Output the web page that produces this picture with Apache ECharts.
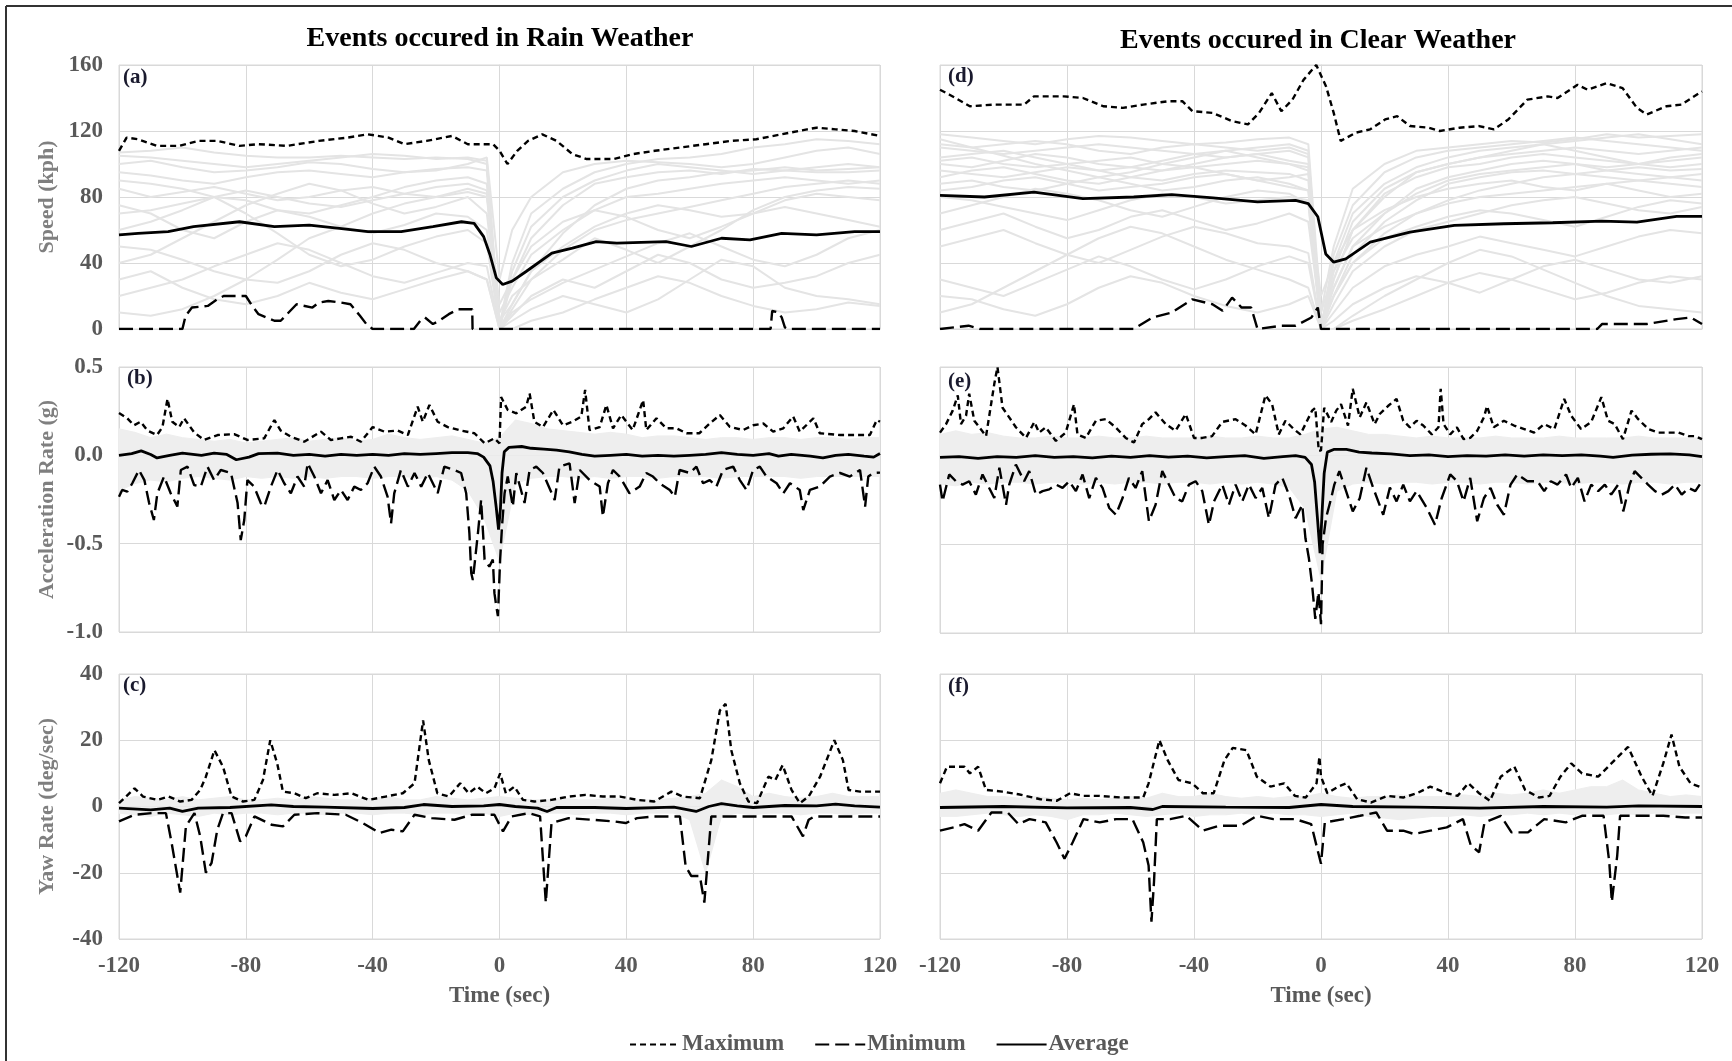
<!DOCTYPE html>
<html><head><meta charset="utf-8">
<script src="https://cdn.jsdelivr.net/npm/echarts@6/dist/echarts.min.js"></script>
<style>html,body{margin:0;padding:0;background:#fff}#c{width:1732px;height:1061px}</style>
</head><body><div id="c"></div>
<script>
// ---------- DATA ----------
const timeTicks = [-120, -80, -40, 0, 40, 80, 120];
const seriesNames = ['Maximum', 'Minimum', 'Average'];
const panelTitles = ['Events occured in Rain Weather', 'Events occured in Clear Weather'];
const yNames = ['Speed (kph)', 'Acceleration Rate (g)', 'Yaw Rate (deg/sec)'];

// (a) Speed, rain
const rainSpeedMax = [[-120,108],[-117.6,116],[-114,115],[-108,111],[-101,111],[-95,114],[-89,114],[-82,111],[-76,112],[-67,111],[-57,114],[-48,116],[-41.5,118],[-35,116],[-30,112],[-23,114],[-15,117],[-10,112],[-2,112],[0,108],[2.5,100],[5.6,108],[9,114],[13.5,118],[18,114],[23,106],[27.5,103],[36,103],[42,106],[49,108],[57,110],[65,112],[73,114],[81,115],[89,118],[97,121],[100,122],[106,121],[112,120],[120,117]];
const rainSpeedMin = [[-120,0],[-100,0],[-99,8],[-97,13],[-92,14],[-89,18],[-87,20],[-80,20],[-78,14],[-76,9],[-71,5],[-69,5],[-67,9],[-64,15],[-59,13],[-57,16],[-54,17],[-50,16],[-47,15],[-44,8],[-42,3],[-40,0],[-27,0],[-25,5],[-23.5,7],[-21,3],[-19,5],[-16,9],[-13,12],[-8.6,12],[-8.5,0],[85.5,0],[86,11],[88,10],[89,7],[90,1],[91,0],[120,0]];
const rainSpeedAvg = [[-120,57],[-114,58],[-104.5,59],[-96.5,62],[-82,65],[-71,62],[-60,63],[-50.5,61],[-41.5,59],[-31,59],[-21,62],[-12,65],[-8,64],[-5,56],[-3,45],[-1,31],[1,27],[4,29],[8.5,35],[16.5,46],[23,49],[30.5,53],[37,52],[52.5,53],[60.5,50],[70,55],[79,54],[89,58],[100,57],[112,59],[120,59]];

// (d) Speed, clear
const clearSpeedMax = [[-120,145],[-117,142],[-110.6,135],[-103,136],[-93.5,136],[-90.4,141],[-81,141],[-75,140],[-68.6,135],[-62.4,134],[-56,136],[-48.3,138],[-43.6,138],[-40.5,132],[-34.2,131],[-28,126],[-23,124],[-19.5,131],[-15.5,143],[-12.5,132],[-9,139],[-5.5,151],[-1.5,160],[1.6,147],[4,131],[6.2,114],[11,119],[15.5,121],[20.2,127],[24,129],[28,123],[34,122],[37.4,120],[43.6,122],[49.8,123],[54.5,121],[59,127],[65,139],[71.4,141],[74.5,140],[80.8,148],[84,145],[90,149],[95,146],[99.5,134],[102.6,130],[108.8,135],[113.5,136],[120,144]];
const clearSpeedMin = [[-120,0],[-111,2],[-107.5,0],[-59,0],[-53,7],[-47,10],[-40.5,18],[-34.2,15],[-31,11],[-28,19],[-25,13],[-22,13],[-20,0],[-12.5,2],[-8,2],[-3,7],[-1,13],[0,0],[87,0],[88.5,3],[102.6,3],[112,6],[116.5,7],[120,3]];
const clearSpeedAvg = [[-120,81],[-106,80],[-90.4,83],[-75,79],[-59,80],[-47,81.5],[-34,79.5],[-20,77],[-8,78],[-4,76],[-1,68],[1.5,45.5],[4,40.5],[7.8,42.5],[15.5,52.6],[28,58.7],[42,62.8],[57.6,63.8],[73,64.4],[88.5,65.4],[99.5,64.8],[112,68.2],[120,68.2]];

// light grey individual event traces (speed)
const greyTimes = [-120,-110,-100,-90,-80,-70,-60,-50,-40,-30,-20,-10,-4,0,4,10,20,30,40,50,60,70,80,90,100,110,120];
const rainSpeedTraces = [
  [107,108,110,107,105,104,104,105,104,103,104,103,100,2,40,70,85,95,100,103,104,106,110,112,115,114,112],
  [95,93,90,88,92,95,96,94,92,95,97,98,96,0,30,55,75,88,92,95,96,94,97,96,95,95,96],
  [85,80,83,86,82,78,80,84,86,82,80,83,80,10,25,45,60,72,80,82,85,88,90,92,90,88,90],
  [75,70,60,55,65,72,68,62,58,63,70,68,60,0,15,35,50,62,70,75,72,68,70,78,82,80,78],
  [40,45,55,65,75,82,88,84,76,70,74,80,70,5,20,30,42,55,48,40,50,60,72,80,84,86,85],
  [20,25,30,38,45,52,48,40,32,28,34,40,38,0,10,18,28,36,44,52,58,50,42,38,45,55,60],
  [60,65,72,80,70,58,45,38,42,50,56,60,52,0,8,20,30,25,35,45,40,30,25,28,32,40,45],
  [10,8,12,20,30,42,55,62,70,76,80,85,82,15,30,50,65,72,68,60,55,62,70,74,70,66,62],
  [50,48,42,35,30,28,35,45,52,48,40,35,30,0,5,12,20,15,10,18,30,42,38,25,20,18,15],
  [100,102,98,95,96,98,101,100,97,95,96,100,104,30,60,80,95,100,102,101,100,98,100,104,108,110,106],
  [30,35,25,18,15,20,28,22,18,24,30,35,30,0,0,5,10,18,25,32,28,20,14,10,12,16,14],
  [90,88,85,80,78,72,70,75,80,86,90,92,88,5,15,35,58,75,85,90,92,95,96,98,96,97,98],
  [105,104,102,100,98,100,102,104,106,105,103,104,102,0,35,62,80,90,96,100,98,96,94,96,98,100,98],
  [70,72,76,80,84,80,76,74,78,82,86,88,84,0,12,30,48,60,66,70,74,78,82,86,88,90,88]
];
const clearSpeedTraces = [
  [118,116,114,112,115,117,116,114,112,113,115,116,112,10,50,85,100,108,110,112,114,113,115,118,116,117,118],
  [110,108,106,108,110,112,110,108,106,104,106,108,104,0,30,60,80,95,100,104,106,108,110,108,106,108,110],
  [102,104,100,98,100,102,104,100,98,100,102,100,96,5,25,50,70,85,92,96,100,102,100,98,100,102,104],
  [96,94,92,95,98,96,92,90,94,96,95,94,90,0,20,45,65,78,88,92,95,96,94,96,98,96,97],
  [88,90,86,84,88,92,88,84,86,90,92,88,84,20,40,60,72,80,85,88,90,86,84,88,90,92,90],
  [70,75,80,85,82,78,72,68,74,80,84,82,76,0,15,35,50,60,65,70,75,78,80,76,72,70,74],
  [50,55,60,52,45,40,48,56,62,58,52,50,46,0,10,25,38,45,50,56,52,48,44,50,56,60,58],
  [30,25,20,28,36,44,38,30,24,30,38,44,40,0,5,15,25,32,28,22,30,38,42,36,30,28,32],
  [10,15,25,35,45,55,62,58,50,42,36,30,25,0,0,8,20,30,40,48,44,36,28,20,14,12,10],
  [60,65,70,62,55,60,68,72,66,60,64,70,65,5,20,40,55,62,68,72,70,66,62,68,74,78,76],
  [80,78,74,70,66,72,78,82,80,76,78,80,78,0,25,50,62,70,76,80,82,84,86,88,84,80,82],
  [104,106,108,104,100,96,98,102,106,108,104,100,98,0,40,70,88,98,104,108,110,112,108,104,100,98,100],
  [20,18,12,8,15,25,32,28,20,14,10,15,20,0,0,5,12,20,28,34,30,24,18,22,28,32,30],
  [115,110,105,100,96,92,95,100,104,108,110,112,108,0,35,65,85,95,100,104,108,112,114,116,118,115,112],
  [100,98,102,106,104,100,98,96,100,104,106,102,100,0,30,60,82,92,98,100,104,106,104,102,100,104,106],
  [92,96,98,94,90,88,92,96,98,94,90,92,94,10,35,55,70,82,90,94,96,98,100,96,94,92,94],
  [112,110,112,114,112,108,106,110,112,110,108,110,106,0,45,75,95,104,108,110,112,114,116,114,112,110,108],
  [84,86,90,92,88,84,86,88,92,94,90,86,84,0,20,40,58,70,78,84,88,92,94,92,90,88,86]
];

// (b) Acceleration, rain
const rainAccMax = [[-120,0.24],[-117.4,0.21],[-115.3,0.17],[-113.2,0.19],[-111,0.14],[-108,0.115],[-106.3,0.16],[-104.7,0.32],[-103.2,0.19],[-101,0.16],[-99.5,0.21],[-96.3,0.13],[-93.2,0.087],[-88.9,0.115],[-83.7,0.12],[-79.5,0.087],[-74.2,0.096],[-71,0.2],[-69,0.14],[-65.8,0.105],[-61.6,0.077],[-56.3,0.134],[-53.2,0.087],[-50,0.096],[-46.8,0.105],[-43.7,0.077],[-40,0.16],[-36.3,0.134],[-32.1,0.14],[-28.9,0.115],[-25.8,0.275],[-24.2,0.19],[-22.1,0.285],[-19.5,0.19],[-16.3,0.16],[-12.1,0.14],[-7.9,0.125],[-4.7,0.068],[-1.6,0.096],[0,0.068],[0.5,0.33],[2.6,0.257],[5.3,0.238],[8.4,0.275],[9.5,0.35],[11,0.19],[13.7,0.16],[17,0.257],[20,0.17],[23,0.19],[25.8,0.22],[27,0.37],[28.4,0.143],[31.6,0.16],[33.7,0.285],[35.8,0.153],[38.4,0.228],[42,0.143],[45.3,0.313],[46.3,0.143],[49.5,0.21],[52.6,0.153],[55.8,0.153],[59,0.125],[63,0.125],[66.3,0.18],[69.5,0.228],[72.6,0.162],[76.8,0.143],[80,0.17],[83.2,0.18],[86.3,0.134],[89.5,0.153],[92.6,0.22],[94.7,0.134],[99,0.21],[101,0.125],[107.4,0.115],[113.7,0.115],[116.8,0.115],[119,0.2],[120,0.19]];
const rainAccMin = [[-120,-0.234],[-119,-0.196],[-117.4,-0.206],[-115.8,-0.158],[-113.7,-0.083],[-112,-0.14],[-110.5,-0.27],[-109,-0.366],[-107.9,-0.215],[-105.8,-0.12],[-103.7,-0.215],[-101.6,-0.29],[-100.5,-0.083],[-98.4,-0.064],[-96.3,-0.168],[-94.2,-0.177],[-92.1,-0.064],[-90,-0.14],[-87.9,-0.083],[-84.7,-0.1],[-82.6,-0.27],[-81.6,-0.48],[-80.5,-0.366],[-79.5,-0.14],[-77.4,-0.177],[-75.3,-0.27],[-74.2,-0.29],[-72.1,-0.177],[-70,-0.083],[-67.9,-0.158],[-65.8,-0.215],[-63.7,-0.12],[-61.6,-0.177],[-60.5,-0.045],[-58.4,-0.12],[-56.3,-0.215],[-54.2,-0.14],[-52.1,-0.253],[-50,-0.196],[-47.9,-0.253],[-45.8,-0.177],[-43.7,-0.196],[-41.6,-0.158],[-39.5,-0.064],[-37.4,-0.12],[-35.3,-0.234],[-34.2,-0.385],[-33.2,-0.215],[-31.1,-0.083],[-28.9,-0.177],[-26.8,-0.1],[-24.7,-0.177],[-22.6,-0.1],[-19.5,-0.215],[-17.4,-0.064],[-14.2,-0.083],[-12.1,-0.1],[-10.5,-0.215],[-9.5,-0.44],[-8.9,-0.668],[-8.4,-0.706],[-6.8,-0.44],[-5.8,-0.253],[-4.7,-0.59],[-3.2,-0.63],[-2.1,-0.59],[-1.6,-0.78],[-1.05,-0.85],[-0.5,-0.91],[0.2,-0.59],[0.8,-0.4],[1.6,-0.215],[2.6,-0.12],[4.2,-0.29],[5.3,-0.1],[7.9,-0.27],[9.5,-0.083],[11.6,-0.064],[13.7,-0.1],[17.4,-0.253],[18.9,-0.064],[22.1,-0.045],[23.7,-0.27],[25.3,-0.083],[28.4,-0.14],[31.6,-0.177],[32.6,-0.347],[34.2,-0.158],[35.8,-0.083],[37.9,-0.12],[41,-0.215],[44.2,-0.177],[46.3,-0.1],[48.4,-0.12],[50.5,-0.158],[53.7,-0.196],[55.3,-0.234],[56.8,-0.083],[60,-0.1],[62.1,-0.064],[64.2,-0.158],[66.3,-0.14],[68.4,-0.177],[70.5,-0.083],[73.7,-0.064],[75.8,-0.14],[77.9,-0.196],[80,-0.083],[82.1,-0.064],[84.2,-0.12],[87.4,-0.158],[89.5,-0.215],[91.6,-0.158],[94.7,-0.196],[95.8,-0.31],[97.9,-0.196],[101,-0.177],[104.2,-0.12],[107.4,-0.1],[110.5,-0.12],[113.7,-0.083],[115.3,-0.29],[116.3,-0.12],[117.9,-0.1],[120,-0.098]];
const rainAccAvg = [[-120,0],[-116,0.01],[-113,0.025],[-110,0.005],[-108,-0.015],[-104,0.0],[-100,0.012],[-94,0.0],[-90,0.012],[-86,0.005],[-83,-0.025],[-79,-0.01],[-76,0.01],[-70,0.012],[-65,0.0],[-60,0.005],[-55,-0.005],[-50,0.005],[-45,0.0],[-40,0.005],[-35,0.0],[-30,0.01],[-25,0.005],[-20,0.01],[-15,0.015],[-10,0.015],[-7,0.01],[-5,-0.01],[-3,-0.06],[-2,-0.15],[-1,-0.3],[-0.3,-0.42],[0.3,-0.3],[0.8,-0.1],[1.5,0.02],[3,0.045],[7,0.05],[10,0.04],[14,0.035],[18,0.03],[22,0.02],[26,0.005],[30,-0.005],[35,0.0],[40,0.005],[45,-0.005],[50,0.0],[55,-0.005],[60,0.0],[65,0.005],[70,0.015],[75,0.005],[80,0.0],[85,0.01],[88,-0.005],[92,0.005],[98,-0.005],[102,-0.015],[106,0.0],[110,0.005],[115,-0.005],[118,-0.01],[120,0.01]];

// (e) Acceleration, clear
const clearAccMax = [[-120,0.13],[-118.1,0.178],[-116,0.254],[-114.4,0.34],[-113.4,0.178],[-111.8,0.225],[-110.8,0.35],[-109.2,0.197],[-107.6,0.16],[-105.5,0.11],[-102.9,0.405],[-101.9,0.5],[-100.3,0.27],[-98.2,0.216],[-96.1,0.16],[-92.9,0.1],[-90.3,0.19],[-88.8,0.13],[-86.7,0.16],[-83.5,0.083],[-80.4,0.13],[-77.8,0.29],[-76.7,0.12],[-74.1,0.1],[-70.9,0.197],[-67.8,0.206],[-64.7,0.16],[-61.5,0.1],[-58.9,0.074],[-56.3,0.178],[-54.2,0.206],[-52.1,0.244],[-48.9,0.178],[-45.8,0.14],[-42.6,0.235],[-40,0.1],[-37.4,0.1],[-34.3,0.11],[-31.1,0.19],[-26.9,0.206],[-23.8,0.17],[-20.6,0.12],[-17.5,0.34],[-15.4,0.29],[-13.3,0.12],[-11.2,0.197],[-8.6,0.15],[-6.5,0.12],[-4.9,0.178],[-2.8,0.254],[-1.8,0.27],[-0.7,0.027],[0,0.03],[1,0.27],[3.2,0.19],[4.8,0.254],[6.3,0.29],[8.5,0.17],[10,0.377],[12.2,0.216],[14.3,0.3],[16.9,0.178],[18.5,0.235],[21.1,0.28],[23.8,0.32],[25.9,0.197],[28,0.16],[30.1,0.197],[32.2,0.17],[34.9,0.12],[37,0.16],[37.7,0.377],[38.6,0.178],[40.7,0.12],[42.8,0.16],[44.9,0.093],[47,0.1],[49.2,0.14],[51.3,0.216],[52.3,0.28],[54.4,0.16],[57.6,0.197],[60.8,0.17],[64,0.15],[67.1,0.13],[70.3,0.178],[73.5,0.15],[76.6,0.32],[78.8,0.225],[81.9,0.15],[85.1,0.19],[88.3,0.33],[90.4,0.197],[92.5,0.178],[95.1,0.093],[97.8,0.254],[99.9,0.206],[103.1,0.15],[106.2,0.13],[109.4,0.13],[112.6,0.13],[115.8,0.11],[117.9,0.11],[120,0.093]];
const clearAccMin = [[-120,-0.163],[-119.2,-0.258],[-117.1,-0.106],[-115,-0.144],[-112.9,-0.163],[-110.8,-0.144],[-108.7,-0.22],[-106.6,-0.106],[-104.5,-0.182],[-102.9,-0.239],[-101.3,-0.068],[-99.2,-0.277],[-98.2,-0.163],[-96.1,-0.05],[-93.5,-0.144],[-91.9,-0.087],[-89.8,-0.22],[-87.7,-0.2],[-85.6,-0.19],[-83.5,-0.163],[-81.4,-0.182],[-79.3,-0.144],[-77.2,-0.2],[-75.1,-0.106],[-73,-0.239],[-70.9,-0.125],[-68.8,-0.182],[-66.7,-0.295],[-64.6,-0.333],[-62.5,-0.239],[-60.5,-0.125],[-58.4,-0.182],[-56.3,-0.087],[-54.2,-0.37],[-52.1,-0.277],[-50,-0.087],[-47.9,-0.163],[-45.8,-0.239],[-43.7,-0.258],[-41.6,-0.163],[-39.5,-0.144],[-37.4,-0.2],[-35.3,-0.39],[-33.7,-0.258],[-31.1,-0.163],[-29,-0.277],[-26.9,-0.163],[-24.8,-0.258],[-22.7,-0.163],[-20.6,-0.239],[-18.5,-0.182],[-16.4,-0.352],[-14.3,-0.163],[-12.2,-0.125],[-10.1,-0.22],[-8,-0.352],[-5.9,-0.277],[-4.9,-0.466],[-3.8,-0.58],[-2.8,-0.73],[-1.8,-0.92],[-0.8,-0.77],[0,-0.95],[0.5,-0.5],[1.6,-0.35],[3.2,-0.24],[4.2,-0.163],[5.8,-0.087],[7.9,-0.2],[10,-0.314],[12.2,-0.24],[14.3,-0.068],[16.4,-0.18],[19.6,-0.333],[21.7,-0.18],[23.8,-0.258],[25.9,-0.163],[28,-0.258],[30.1,-0.2],[33.3,-0.295],[35.9,-0.39],[38,-0.24],[40.7,-0.106],[42.8,-0.144],[44.9,-0.258],[47,-0.125],[49.2,-0.37],[51.3,-0.24],[53.4,-0.182],[55.5,-0.277],[57.6,-0.333],[59.7,-0.163],[61.8,-0.106],[65,-0.144],[68.2,-0.144],[70.3,-0.2],[72.4,-0.144],[74.5,-0.163],[77.2,-0.106],[78.8,-0.182],[80.9,-0.125],[83,-0.258],[85.1,-0.163],[87.3,-0.2],[89.4,-0.163],[91.4,-0.22],[93.6,-0.163],[95.2,-0.314],[97.2,-0.163],[98.8,-0.087],[100.9,-0.125],[103,-0.163],[105.2,-0.2],[107.3,-0.22],[109.4,-0.2],[111.5,-0.163],[113.6,-0.22],[115.8,-0.182],[117.9,-0.2],[120,-0.144]];
const clearAccAvg = [[-120,-0.01],[-114,-0.005],[-108,-0.015],[-102,-0.005],[-96,-0.01],[-90,0.0],[-84,-0.01],[-78,-0.005],[-72,-0.012],[-66,-0.003],[-60,-0.01],[-54,0.0],[-48,-0.008],[-42,-0.003],[-36,-0.012],[-30,-0.005],[-24,0.0],[-18,-0.015],[-12,-0.005],[-8,0.0],[-5,-0.01],[-3,-0.05],[-2,-0.15],[-1,-0.38],[-0.3,-0.55],[0.4,-0.3],[1,-0.1],[2,0.02],[4,0.035],[8,0.035],[12,0.02],[16,0.015],[22,0.01],[28,0.0],[34,0.005],[40,-0.005],[46,0.0],[52,-0.003],[58,0.005],[64,-0.003],[70,0.005],[76,0.0],[82,0.005],[88,-0.003],[92,-0.01],[98,0.003],[104,0.008],[110,0.01],[116,0.005],[120,-0.005]];

// grey envelope of individual traces (acceleration & yaw), every 5 s
const bandTimes = [-120,-115,-110,-105,-100,-95,-90,-85,-80,-75,-70,-65,-60,-55,-50,-45,-40,-35,-30,-25,-20,-15,-10,-5,0,5,10,15,20,25,30,35,40,45,50,55,60,65,70,75,80,85,90,95,100,105,110,115,120];
const rainAccBandHi = [0.15,0.13,0.1,0.12,0.1,0.09,0.08,0.09,0.07,0.08,0.09,0.1,0.08,0.09,0.1,0.08,0.09,0.12,0.1,0.09,0.1,0.11,0.09,0.07,0.1,0.2,0.18,0.15,0.14,0.13,0.12,0.13,0.12,0.1,0.11,0.11,0.1,0.09,0.1,0.1,0.09,0.1,0.1,0.09,0.1,0.1,0.09,0.1,0.1];
const rainAccBandLo = [-0.2,-0.16,-0.14,-0.15,-0.13,-0.12,-0.13,-0.14,-0.12,-0.13,-0.12,-0.13,-0.12,-0.13,-0.12,-0.12,-0.13,-0.12,-0.12,-0.13,-0.12,-0.14,-0.2,-0.35,-0.6,-0.16,-0.13,-0.12,-0.12,-0.13,-0.12,-0.13,-0.12,-0.12,-0.13,-0.12,-0.12,-0.12,-0.13,-0.12,-0.12,-0.12,-0.12,-0.13,-0.12,-0.12,-0.12,-0.12,-0.12];
const clearAccBandHi = [0.12,0.14,0.12,0.13,0.11,0.1,0.1,0.11,0.1,0.1,0.11,0.1,0.1,0.11,0.1,0.1,0.1,0.11,0.1,0.1,0.11,0.1,0.1,0.12,0.15,0.16,0.14,0.12,0.12,0.11,0.1,0.11,0.1,0.1,0.1,0.11,0.1,0.1,0.1,0.11,0.1,0.1,0.1,0.1,0.11,0.1,0.1,0.1,0.1];
const clearAccBandLo = [-0.16,-0.17,-0.15,-0.16,-0.15,-0.15,-0.16,-0.15,-0.15,-0.16,-0.15,-0.16,-0.15,-0.15,-0.16,-0.15,-0.15,-0.16,-0.15,-0.16,-0.15,-0.16,-0.18,-0.3,-0.7,-0.2,-0.16,-0.15,-0.16,-0.15,-0.15,-0.16,-0.15,-0.15,-0.16,-0.15,-0.15,-0.16,-0.15,-0.15,-0.16,-0.15,-0.15,-0.16,-0.15,-0.15,-0.16,-0.15,-0.15];
const rainYawBandHi = [2,3,2.5,2,3,2,2.5,3,2,2,2.5,2,3,2.5,2,2,2.5,3,2,2,3,2.5,2,2.5,3,2.5,2,2,2.5,2,2,2.5,2,2,2,2.5,3,4,8,6,3,4,3,2.5,3,4,3,3,3];
const rainYawBandLo = [-2,-2.5,-3,-2,-2.5,-3,-2,-2.5,-2,-2,-2.5,-2,-2,-2.5,-2,-2,-2.5,-2,-2,-2.5,-2,-2,-2.5,-2,-3,-2,-2.5,-2,-2,-2.5,-2,-2,-2.5,-2,-2,-2,-4,-20,-3,-2,-2.5,-2,-2,-2.5,-2,-2,-2.5,-2,-2];
const clearYawBandHi = [4,5,4,3,3,2.5,3,2.5,2,2.5,2,2.5,3,2.5,4,3,3,4,3,2.5,3,2.5,3,3,4,3,2.5,3,3,3.5,3,3,3,3.5,3,4,3.5,4,5,4,5,6,6,8,5,4,3,3.5,3];
const clearYawBandLo = [-3,-3,-2.5,-2,-2.5,-3,-2.5,-3,-4,-2.5,-2.5,-2,-2.5,-3,-2.5,-2,-3,-2.5,-2.5,-2,-2.5,-2,-2.5,-2.5,-3,-2.5,-2,-3,-3.5,-4,-3.5,-3,-3,-2.5,-3,-2.5,-2.5,-2,-2.5,-2,-2.5,-2,-2.5,-2,-2.5,-2,-2.5,-2,-2];

// (c) Yaw rate, rain
const rainYawMax = [[-120,1],[-117.8,3],[-115.1,5.5],[-112.4,3],[-107.9,2],[-104.3,3],[-100.7,1.5],[-97.1,2],[-94.4,5],[-92.6,9],[-89.9,17],[-87.2,12],[-84.5,3],[-80.9,1.5],[-77.3,2],[-74.6,8],[-72.3,20],[-70.1,13],[-68.3,4.5],[-64.7,4],[-61.1,2.5],[-57.5,4],[-52.1,3.5],[-46.7,4],[-41.3,2],[-35.9,3],[-30.5,4],[-26.8,7],[-24.1,26],[-22.3,14],[-19.6,4],[-16,3],[-12.4,7],[-9.7,4],[-7,6],[-4.3,4],[-1.6,5.5],[0.2,10],[2,4],[4.7,6],[7.4,2],[11,1.5],[16.4,2],[21.8,3],[27.2,3.5],[32.6,3],[38,3],[43.4,2],[48.8,1.5],[54.2,4.5],[57.8,3],[63.2,2.5],[66.8,14],[69.5,29],[71.3,31],[73.1,17],[75.8,7],[78.5,1.5],[81.2,1],[84.8,9],[87,8],[89.3,12.5],[92.1,5],[94.7,1],[97.5,3],[101.1,9],[105.6,20],[108.3,14],[110.1,5],[113.7,4.5],[120,4.5]];
const rainYawMin = [[-120,-4.5],[-115.1,-2.5],[-109.7,-2],[-105.2,-2],[-103.4,-11],[-100.7,-26],[-98.9,-6],[-96.2,-2],[-94.4,-9],[-92.6,-20],[-90.8,-17],[-89,-7],[-87.2,-2],[-84.5,-2],[-81.8,-10.5],[-80,-9],[-77.3,-3],[-71.9,-5.5],[-68.3,-6],[-64.7,-2.5],[-57.5,-2],[-48.5,-2.5],[-43.1,-5],[-37.8,-8],[-34.1,-7],[-30.5,-7.5],[-26.8,-2.5],[-21.4,-3.5],[-14.2,-4],[-8.8,-2.5],[-1.6,-2.5],[1.1,-7.5],[3.8,-3],[9.2,-2],[12.8,-3],[14.6,-29],[16.4,-5],[21.8,-3.5],[29,-4],[36.2,-4.5],[39.8,-5],[43.4,-3.5],[48.8,-3],[56.9,-3],[58.7,-18],[60.5,-21],[63.2,-21],[64.6,-29],[66.8,-3],[72.2,-3],[92.1,-3],[95.7,-9],[97.5,-4],[99.3,-3],[120,-3]];
const rainYawAvg = [[-120,-0.5],[-110,-1],[-104,-0.5],[-100,-1.5],[-95,-0.5],[-85,-0.3],[-72,0.5],[-65,0],[-55,-0.2],[-40,-0.6],[-30,-0.3],[-24,0.6],[-15,0],[-5,0.2],[0,0.6],[5,0],[12,-0.5],[15,-1.5],[18,-0.3],[30,-0.3],[40,-0.6],[55,-0.2],[62,-1.5],[66,0],[70,0.9],[75,0.2],[80,-0.3],[90,0.3],[100,0.2],[106,0.7],[112,0.2],[120,-0.2]];

// (f) Yaw rate, clear
const clearYawMax = [[-120,7],[-117.8,12],[-112.3,12],[-110.6,10],[-108,12],[-105.5,5],[-100.4,4.5],[-95.3,3.7],[-88.4,2.2],[-83.3,1.7],[-79,4],[-74.8,3.2],[-69.7,3.2],[-62.8,2.7],[-56,2.7],[-54.3,7],[-50.9,20],[-48.3,14],[-44.9,8],[-40.6,7],[-37.2,4],[-33.8,4],[-30.4,14],[-27.8,17.7],[-23.5,17],[-20.2,9],[-15.9,6],[-11.6,7],[-8.2,3.2],[-4.8,2.7],[-1.4,7],[-0.5,15],[0,9],[2,4],[5.4,6],[8,7],[11.4,2.2],[15.7,1.2],[20.8,3.2],[25.9,2.7],[30.2,4],[34.4,6],[39.6,4],[43,3.2],[46.4,7],[49.8,4],[53.2,1.7],[56.6,9],[60.9,12],[64.3,5],[68.6,2.7],[72,3.2],[75.4,9],[78.8,13],[82.2,10],[87.3,9],[92.5,14],[96.7,18],[101,9],[104.4,3.2],[107.8,13],[110.4,21.7],[112.9,12],[116.4,7],[120,5.7]];
const clearYawMin = [[-120,-7.3],[-115.7,-6.3],[-112.3,-5.3],[-108,-7.3],[-103.8,-1.8],[-98.7,-1.8],[-95.3,-5.3],[-91.8,-3.8],[-86.7,-4.8],[-83.3,-10.8],[-80.8,-15.8],[-78.2,-10.8],[-74.8,-3.8],[-69.7,-4.8],[-64.5,-3.8],[-59.4,-3.8],[-56,-10.8],[-54.3,-17.8],[-53.4,-34.8],[-52.6,-22.8],[-51.7,-3.8],[-47.5,-3.8],[-42.4,-2.8],[-37.2,-7.3],[-32.1,-5.8],[-25.3,-5.8],[-20.2,-2.8],[-15,-3.8],[-8.2,-3.8],[-3.1,-5.3],[0,-17.3],[1.2,-4.8],[7.1,-3.8],[12.3,-2.8],[17.4,-1.8],[20.8,-7.3],[25.9,-7.3],[29.3,-8.3],[34.4,-7.3],[39.6,-6.3],[44.7,-3.8],[47.2,-11.8],[49.8,-13.8],[51.5,-4.8],[56.6,-2.8],[60,-7.8],[65.2,-7.8],[70.3,-3.8],[77.1,-4.8],[82.2,-2.8],[89,-2.8],[90.8,-16.8],[91.6,-28.8],[93.3,-14.8],[94.2,-2.8],[101,-2.8],[107.8,-2.8],[114.7,-3.3],[120,-3.3]];
const clearYawAvg = [[-120,-0.3],[-100,0],[-80,-0.4],[-60,-0.3],[-53,-0.9],[-50,0],[-30,-0.2],[-10,-0.3],[0,0.6],[10,0],[30,-0.2],[50,-0.5],[70,0],[90,-0.2],[100,0.2],[120,0]];

// ---------- CHART ----------
const FONT = '"Liberation Serif", "Times New Roman", serif';
const GRID_C = '#d9d9d9';
const GREY = '#e4e4e4';
const chart = echarts.init(document.getElementById('c'), null, {renderer: 'canvas'});

const grids = [
  {left: 119, top: 65, width: 761, height: 264},
  {left: 119, top: 367, width: 761, height: 265},
  {left: 119, top: 674, width: 761, height: 265},
  {left: 940, top: 65, width: 762, height: 264},
  {left: 940, top: 367, width: 762, height: 266},
  {left: 940, top: 674, width: 762, height: 265}
].map(g => Object.assign({show: true, borderColor: GRID_C, borderWidth: 1, containLabel: false, outerBoundsMode: 'none'}, g));

const yRanges = [
  {min: 0, max: 160, interval: 40},
  {min: -1.0, max: 0.5, interval: 0.5},
  {min: -40, max: 40, interval: 20}
];

const xAxes = grids.map((g, i) => {
  const bottomRow = (i === 2 || i === 5);
  return {
    gridIndex: i, type: 'value', min: timeTicks[0], max: timeTicks[timeTicks.length - 1], interval: 40,
    axisLine: {show: true, lineStyle: {color: GRID_C, width: 1}},
    axisTick: {show: false},
    splitLine: {show: true, lineStyle: {color: GRID_C, width: 1}},
    axisLabel: {show: bottomRow, margin: 16, fontFamily: FONT, fontWeight: 'bold', fontSize: 23, color: '#595959'},
    name: bottomRow ? 'Time (sec)' : '', nameLocation: 'middle', nameGap: 46,
    nameTextStyle: {fontFamily: FONT, fontWeight: 'bold', fontSize: 23, color: '#595959'}
  };
});

const yAxes = grids.map((g, i) => {
  const row = i % 3, leftCol = i < 3;
  const r = yRanges[row];
  return {
    gridIndex: i, type: 'value', min: r.min, max: r.max, interval: r.interval,
    axisLine: {show: true, lineStyle: {color: GRID_C, width: 1}},
    axisTick: {show: false},
    splitLine: {show: true, lineStyle: {color: GRID_C, width: 1}},
    axisLabel: {show: leftCol, margin: 16, fontFamily: FONT, fontWeight: 'bold', fontSize: 23, color: '#595959',
      formatter: v => row === 1 ? v.toFixed(1) : String(v)},
    name: leftCol ? yNames[row] : '', nameLocation: 'middle', nameGap: 61,
    nameTextStyle: {fontFamily: FONT, fontWeight: 'bold', fontSize: 22, color: '#7f7f7f'}
  };
});

const series = [];
function addLine(name, data, gi, lineStyle, z) {
  series.push({type: 'line', name, data, xAxisIndex: gi, yAxisIndex: gi, symbol: 'none', silent: true,
    animation: false, lineStyle, itemStyle: {color: lineStyle.color}, z: z || 3, clip: true});
}
function addTraces(traces, gi) {
  traces.forEach((tr, k) => {
    addLine('trace' + gi + '_' + k, greyTimes.map((t, j) => [t, tr[j]]), gi, {color: GREY, width: 2}, 1);
  });
}
function addBand(hi, lo, gi) {
  [hi, lo].forEach((arr, k) => {
    series.push({type: 'line', name: 'band' + gi + '_' + k, data: bandTimes.map((t, j) => [t, arr[j]]),
      xAxisIndex: gi, yAxisIndex: gi, symbol: 'none', silent: true, animation: false,
      lineStyle: {color: '#eeeeee', width: 1}, areaStyle: {color: '#eeeeee', opacity: 1}, z: 1});
  });
}
const MAXS = {color: '#000', width: 2.4, type: [6, 4]};
const MINS = {color: '#000', width: 2.4, type: [14, 6]};
const AVGS = {color: '#000', width: 2.8, type: 'solid'};
function addTriple(mx, mn, av, gi) {
  addLine(seriesNames[0], mx, gi, MAXS, 4);
  addLine(seriesNames[1], mn, gi, MINS, 4);
  addLine(seriesNames[2], av, gi, AVGS, 5);
}

addTraces(rainSpeedTraces, 0);
addTraces(clearSpeedTraces, 3);
addBand(rainAccBandHi, rainAccBandLo, 1);
addBand(clearAccBandHi, clearAccBandLo, 4);
addBand(rainYawBandHi, rainYawBandLo, 2);
addBand(clearYawBandHi, clearYawBandLo, 5);
addTriple(rainSpeedMax, rainSpeedMin, rainSpeedAvg, 0);
addTriple(rainAccMax, rainAccMin, rainAccAvg, 1);
addTriple(rainYawMax, rainYawMin, rainYawAvg, 2);
addTriple(clearSpeedMax, clearSpeedMin, clearSpeedAvg, 3);
addTriple(clearAccMax, clearAccMin, clearAccAvg, 4);
addTriple(clearYawMax, clearYawMin, clearYawAvg, 5);

function txt(x, y, text, size, color, align) {
  return {type: 'text', x, y, silent: true, z: 100,
    style: {text, x: 0, y: 0, font: 'bold ' + size + 'px ' + FONT, fill: color,
      textAlign: align || 'left', textVerticalAlign: 'middle', align: align || 'left', verticalAlign: 'middle'}};
}

const graphics = [
  {type: 'line', shape: {x1: 6, y1: 6, x2: 1732, y2: 6}, style: {stroke: '#333', lineWidth: 2}, silent: true},
  {type: 'line', shape: {x1: 6, y1: 6, x2: 6, y2: 1061}, style: {stroke: '#333', lineWidth: 2}, silent: true},
  txt(500, 39, panelTitles[0], 28, '#000', 'center'),
  txt(1318, 41, panelTitles[1], 28, '#000', 'center'),
  txt(123, 78, '(a)', 21, '#1a1a2e'),
  txt(127, 379, '(b)', 21, '#1a1a2e'),
  txt(123, 686, '(c)', 21, '#1a1a2e'),
  txt(948, 77, '(d)', 21, '#1a1a2e'),
  txt(948, 382, '(e)', 21, '#1a1a2e'),
  txt(948, 687, '(f)', 21, '#1a1a2e')
];

chart.setOption({
  animation: false,
  backgroundColor: '#ffffff',
  grid: grids,
  xAxis: xAxes,
  yAxis: yAxes,
  legend: {
    data: seriesNames, left: 624, top: 1028, itemWidth: 50, itemHeight: 14, itemGap: 30,
    selectedMode: false,
    itemStyle: {opacity: 0},
    textStyle: {fontFamily: FONT, fontWeight: 'bold', fontSize: 23, color: '#595959', padding: [0, 0, 0, -3]}
  },
  series,
  graphic: graphics
});
</script>
</body></html>
